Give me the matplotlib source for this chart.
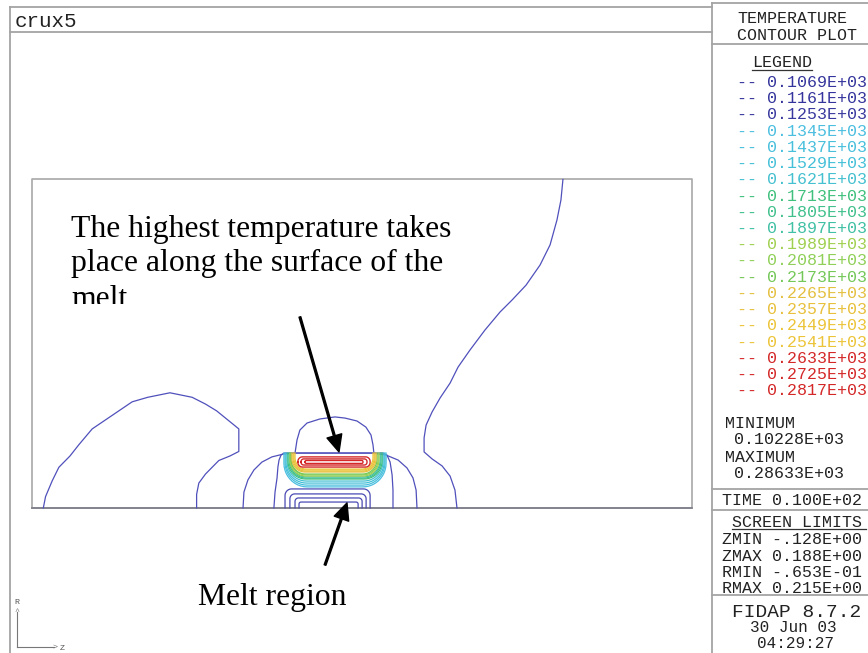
import numpy as np
import matplotlib.pyplot as plt
from matplotlib.lines import Line2D
from matplotlib.transforms import Bbox, TransformedBbox

W, H = 868, 653

# screen limits of the plot window
zmin, zmax = -0.128, 0.188
rmin, rmax = -0.0653, 0.215

# computational box and melt free surface
box_z = [-0.118, 0.179, 0.179, -0.118, -0.118]
box_r = [0.0, 0.0, 0.1455, 0.1455, 0.0]
surf_r = 0.0243

# contour levels (x 1E+03)
levels = [0.1069, 0.1161, 0.1253, 0.1345, 0.1437, 0.1529, 0.1621, 0.1713,
          0.1805, 0.1897, 0.1989, 0.2081, 0.2173, 0.2265, 0.2357, 0.2449,
          0.2541, 0.2633, 0.2725, 0.2817]
level_colors = ['#34349c', '#34349c', '#38389e', '#4cbfe0', '#48c0dc', '#44c0d8',
                '#44c0d0', '#40c07c', '#40c08c', '#40c0a4', '#a0d050', '#90d058',
                '#74c858', '#e4c040', '#e8c03c', '#ecc438', '#ecc438', '#d42828',
                '#d42828', '#d42828']
line_blue = '#5050bc'

# low temperature contours (z, r)
dome_z = [-0.113, -0.112, -0.109, -0.106, -0.101, -0.097, -0.091, -0.085, -0.079,
          -0.073, -0.066, -0.061, -0.056, -0.051, -0.046, -0.040, -0.035, -0.030,
          -0.025, -0.025, -0.025, -0.029, -0.034, -0.037, -0.040, -0.043, -0.044, -0.044]
dome_r = [0.000, 0.005, 0.012, 0.018, 0.023, 0.028, 0.035, 0.039, 0.043,
          0.047, 0.049, 0.050, 0.051, 0.050, 0.049, 0.046, 0.043, 0.039,
          0.035, 0.030, 0.025, 0.023, 0.021, 0.018, 0.015, 0.011, 0.006, 0.000]

outer_u_z = [-0.0231, -0.0227, -0.0209, -0.0182, -0.0146, -0.0101, -0.0047, 0.0012,
             0.0354, 0.0413, 0.0467, 0.0507, 0.0534, 0.0548, 0.0552]
outer_u_r = [0.0, 0.0070, 0.0124, 0.0168, 0.0203, 0.0226, 0.0239, 0.0243,
             0.0243, 0.0234, 0.0212, 0.0177, 0.0133, 0.0079, 0.0]

inner_u_z = [-0.0092, -0.0087, -0.0078, -0.0074, -0.0069, -0.0060, -0.0047,
             0.0399, 0.0417, 0.0431, 0.0440, 0.0444, 0.0444]
inner_u_r = [0.0, 0.0070, 0.0132, 0.0181, 0.0212, 0.0234, 0.0243,
             0.0243, 0.0234, 0.0203, 0.0146, 0.0079, 0.0]

cap_z = [0.0003, 0.0012, 0.0025, 0.0057, 0.0115, 0.0183, 0.0228, 0.0282, 0.0322,
         0.0345, 0.0354, 0.0358]
cap_r = [0.0243, 0.0301, 0.0345, 0.0376, 0.0394, 0.0403, 0.0398, 0.0385, 0.0358,
         0.0323, 0.0279, 0.0243]

far_z = [0.1209, 0.1200, 0.1182, 0.1151, 0.1106, 0.1043, 0.0980, 0.0926, 0.0858,
         0.0791, 0.0737, 0.0701, 0.0656, 0.0620, 0.0593, 0.0584, 0.0584, 0.0620,
         0.0665, 0.0701, 0.0723, 0.0732]
far_r = [0.1455, 0.1364, 0.1275, 0.1165, 0.1076, 0.0987, 0.0921, 0.0868, 0.0788,
         0.0700, 0.0624, 0.0553, 0.0487, 0.0425, 0.0367, 0.0310, 0.0248, 0.0217,
         0.0186, 0.0141, 0.0079, 0.0]

# nested contours under the melt (left z, right z, top r)
base_zl = [-0.0042, -0.0020, 0.0003, 0.0021]
base_zr = [0.0341, 0.0323, 0.0305, 0.0287]
base_rt = [0.0084, 0.0062, 0.0044, 0.0026]

# shells hanging under the hot surface (level index, left z, right z, bottom r)
shell_lvl = [3, 4, 5, 6, 7, 8, 9, 10, 11, 12, 13, 14, 15, 16]
shell_zl = [-0.0047, -0.0042, -0.0038, -0.0033, -0.0029, -0.0024, -0.0020,
            -0.0020, -0.0015, -0.0015, -0.0011, -0.0006, -0.0002, 0.0003]
shell_zr = [0.0413, 0.0408, 0.0404, 0.0399, 0.0395, 0.0390, 0.0386,
            0.0381, 0.0377, 0.0372, 0.0368, 0.0363, 0.0359, 0.0354]
shell_rb = [0.0093, 0.0101, 0.0110, 0.0119, 0.0128, 0.0132, 0.0137,
            0.0141, 0.0146, 0.0150, 0.0159, 0.0163, 0.0168, 0.0172]

# closed hot loops (level index, left z, right z, bottom r, top r)
loop_lvl = [17, 18, 19]
loop_zl = [0.0016, 0.0030, 0.0048]
loop_zr = [0.0341, 0.0327, 0.0309]
loop_rb = [0.0181, 0.0190, 0.0197]
loop_rt = [0.0226, 0.0217, 0.0210]


def u_curve(zl, zr, r_open, r_closed, frac):
    h = r_closed - r_open
    s = np.sign(h)
    rad = frac * abs(h)
    a1 = np.linspace(np.pi, np.pi / 2, 12)
    a2 = np.linspace(np.pi / 2, 0, 12)
    zs = np.concatenate([[zl], zl + rad + rad * np.cos(a1), zr - rad + rad * np.cos(a2), [zr]])
    rs = np.concatenate([[r_open], r_closed - s * rad + s * rad * np.sin(a1),
                         r_closed - s * rad + s * rad * np.sin(a2), [r_open]])
    return zs, rs


fig = plt.figure(figsize=(W / 100, H / 100), dpi=100)
ax = fig.add_axes([10 / W, (653 - 655.3) / H, 702 / W, 632.7 / H])
ax.set_xlim(zmin, zmax)
ax.set_ylim(rmin, rmax)
ax.axis('off')

ax.plot(box_z, box_r, color='#a8a8a8', lw=1.2, zorder=1)
ax.plot(box_z[:2], box_r[:2], color='#7c7c88', lw=1.2, zorder=1)

for zz, rr in [(dome_z, dome_r), (outer_u_z, outer_u_r), (inner_u_z, inner_u_r),
               (cap_z, cap_r), (far_z, far_r)]:
    ax.plot(zz, rr, color=line_blue, lw=0.9, zorder=2)

for zl, zr, rt in zip(base_zl, base_zr, base_rt):
    zs, rs = u_curve(zl, zr, 0.0, rt, 0.35)
    ax.plot(zs, rs, color='#4a4ab4', lw=0.9, zorder=2)

for k, zl, zr, rb in zip(shell_lvl, shell_zl, shell_zr, shell_rb):
    zs, rs = u_curve(zl, zr, surf_r, rb, 0.7)
    ax.plot(zs, rs, color=level_colors[k], lw=0.9, zorder=3)

for k, zl, zr, rb, rt in zip(loop_lvl, loop_zl, loop_zr, loop_rb, loop_rt):
    mid = (rb + rt) / 2
    z1, r1 = u_curve(zl, zr, mid, rt, 0.9)
    z2, r2 = u_curve(zl, zr, mid, rb, 0.9)
    zs = np.concatenate([z1, z2[::-1]])
    rs = np.concatenate([r1, r2[::-1]])
    if k == loop_lvl[0]:
        ax.fill(zs, rs, color='white', zorder=3.5)
    ax.plot(zs, rs, color=level_colors[k], lw=1.0, zorder=4)

# annotation text
serif = 'Liberation Serif'
clip = TransformedBbox(Bbox([[60 / W, 1 - 304 / H], [480 / W, 1 - 200 / H]]), fig.transFigure)
for txt, rb in [('The highest temperature takes', 0.1200),
                ('place along the surface of the', 0.1050),
                ('melt', 0.0890)]:
    t = ax.text(-0.1005, rb, txt, family=serif, fontsize=22.8, va='baseline', ha='left', zorder=6)
    t.set_clip_box(clip)
    t.set_clip_on(True)
ax.text(-0.0434, -0.0430, 'Melt region', family=serif, fontsize=22.8, va='baseline', ha='left')

arrow = dict(width=1.3, headwidth=11, headlength=12, color='black', shrink=0)
ax.annotate('', xy=(0.0201, 0.0248), xytext=(0.0025, 0.0846), arrowprops=arrow, zorder=7)
ax.annotate('', xy=(0.0237, 0.0022), xytext=(0.0138, -0.0253), arrowprops=arrow, zorder=7)


# panel frames
gray = '#a4a4a4'


def hline(y, x0, x1, c=gray, lw=1.3):
    fig.add_artist(Line2D([x0 / W, x1 / W], [1 - y / H, 1 - y / H], color=c, lw=lw,
                          transform=fig.transFigure))


def vline(x, y0, y1, c=gray, lw=1.3):
    fig.add_artist(Line2D([x / W, x / W], [1 - y0 / H, 1 - y1 / H], color=c, lw=lw,
                          transform=fig.transFigure))


def ftext(x, y, s, **kw):
    kw.setdefault('family', 'Liberation Mono')
    kw.setdefault('va', 'baseline')
    kw.setdefault('color', '#222222')
    fig.text(x / W, 1 - y / H, s, **kw)


vline(10, 7, 653)
hline(7, 10, 712)
hline(32, 10, 712)
vline(712, 3, 653)
hline(3, 712, 868)
for y in [44, 489, 510, 595]:
    hline(y, 712, 868)

ftext(15, 27, 'crux5', fontsize=15)

# R / Z direction indicator
fig.add_artist(Line2D([17 / W, 17 / W], [1 - 647 / H, 1 - 612 / H], color='#777777', lw=0.8,
                      transform=fig.transFigure))
fig.add_artist(Line2D([17 / W, 54 / W], [1 - 647 / H, 1 - 647 / H], color='#777777', lw=0.8,
                      transform=fig.transFigure))
ftext(17, 612, '^', fontsize=6, ha='center', va='center', color='#777777')
ftext(55, 647, '>', fontsize=6, ha='center', va='center', color='#777777')
ftext(17, 603, 'R', fontsize=6, ha='center', va='center', color='#555555')
ftext(62, 648, 'Z', fontsize=6, ha='center', va='center', color='#555555')

# right hand legend panel
ftext(737, 23, 'TEMPERATURE', fontsize=12)
ftext(737, 40, 'CONTOUR PLOT', fontsize=12)
ftext(752, 67, 'LEGEND', fontsize=12)
hline(69.5, 752, 812, c='#333333', lw=0.9)
for i, (lv, c) in enumerate(zip(levels, level_colors)):
    ftext(737, 87 + 16.22 * i, '-- %.4fE+03' % lv, fontsize=12, color=c)

ftext(725, 428, 'MINIMUM', fontsize=12)
ftext(734, 444, '0.10228E+03', fontsize=12)
ftext(725, 462, 'MAXIMUM', fontsize=12)
ftext(734, 478, '0.28633E+03', fontsize=12)
ftext(722, 505, 'TIME 0.100E+02', fontsize=12)
ftext(732, 527, 'SCREEN LIMITS', fontsize=12)
hline(529, 732, 866, c='#333333', lw=0.9)
ftext(722, 544, 'ZMIN -.128E+00', fontsize=12)
ftext(722, 561, 'ZMAX 0.188E+00', fontsize=12)
ftext(722, 577, 'RMIN -.653E-01', fontsize=12)
ftext(722, 593, 'RMAX 0.215E+00', fontsize=12)
ftext(732, 617, 'FIDAP 8.7.2', fontsize=14)
ftext(750, 632, '30 Jun 03', fontsize=11.5)
ftext(757, 648, '04:29:27', fontsize=11.5)

fig.savefig('out.png', dpi=100)
